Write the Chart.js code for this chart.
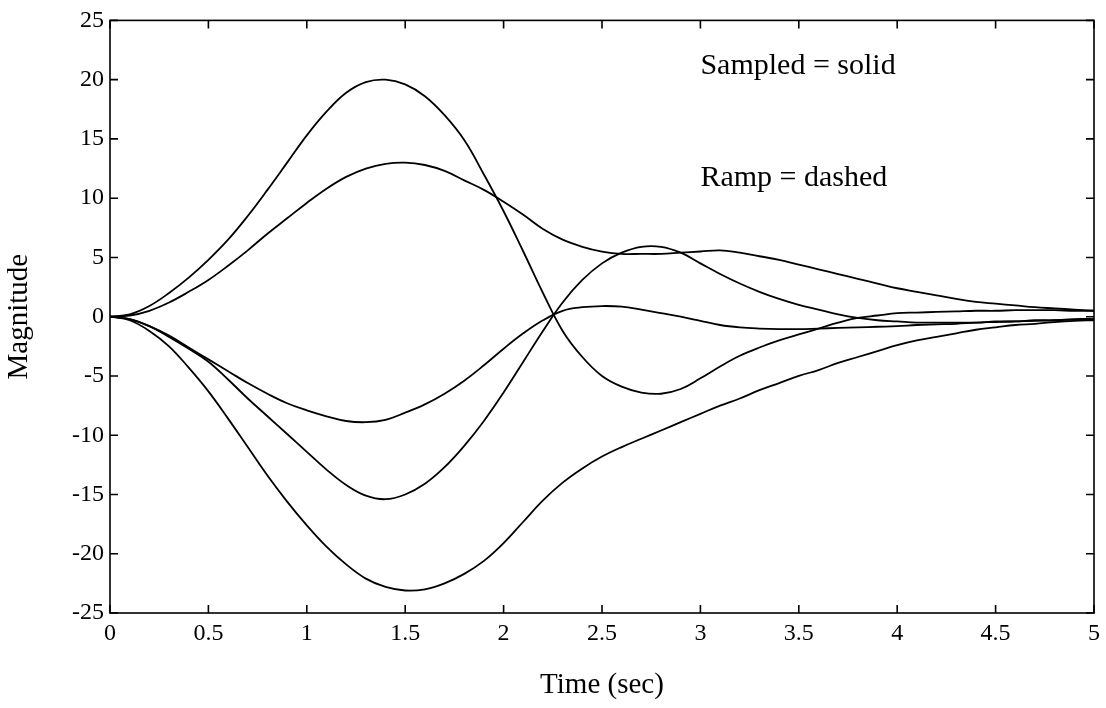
<!DOCTYPE html>
<html>
<head>
<meta charset="utf-8">
<title>Magnitude vs time</title>
<script src="https://cdn.jsdelivr.net/npm/chart.js@4/dist/chart.umd.min.js"></script>
<style>
    html, body { margin: 0; padding: 0; background: #fff; }
    #wrap { width: 1106px; height: 708px; }
</style>
</head>
<body>
<div id="wrap"><canvas id="respChart"></canvas></div>
<script>
// time axis (sec)
const time = [
    0.0, 0.1, 0.2, 0.3, 0.4, 0.5, 0.6, 0.7, 0.8, 0.9,
    1.0, 1.1, 1.2, 1.3, 1.4, 1.5, 1.6, 1.7, 1.8, 1.9,
    2.0, 2.1, 2.2, 2.3, 2.4, 2.5, 2.6, 2.7, 2.8, 2.9,
    3.0, 3.1, 3.2, 3.3, 3.4, 3.5, 3.6, 3.7, 3.8, 3.9,
    4.0, 4.1, 4.2, 4.3, 4.4, 4.5, 4.6, 4.7, 4.8, 4.9, 5.0
];

// response curves
const peak20 = [
    0, 0.2, 0.9, 2.0, 3.3, 4.8, 6.5, 8.5, 10.7, 13.0,
    15.3, 17.3, 18.9, 19.8, 20.0, 19.6, 18.6, 17.0, 14.9, 12.0,
    8.9, 5.5, 2.0, -1.2, -3.4, -5.0, -5.9, -6.4, -6.5, -6.1,
    -5.2, -4.2, -3.3, -2.6, -2.0, -1.5, -1.0, -0.5, -0.1, 0.1,
    0.3, 0.35, 0.4, 0.45, 0.5, 0.5, 0.55, 0.55, 0.55, 0.5, 0.5
];
const peak13 = [
    0, 0.1, 0.5, 1.2, 2.1, 3.1, 4.3, 5.6, 7.0, 8.3,
    9.6, 10.8, 11.8, 12.5, 12.9, 13.0, 12.8, 12.3, 11.5, 10.7,
    9.7, 8.6, 7.4, 6.5, 5.9, 5.5, 5.3, 5.3, 5.3, 5.4,
    5.5, 5.6, 5.4, 5.1, 4.8, 4.4, 4.0, 3.6, 3.2, 2.8,
    2.4, 2.1, 1.8, 1.5, 1.25, 1.1, 0.95, 0.8, 0.7, 0.6, 0.5
];
const dip9 = [
    0, -0.2, -0.8, -1.6, -2.6, -3.6, -4.6, -5.6, -6.5, -7.3,
    -7.9, -8.4, -8.8, -8.9, -8.7, -8.1, -7.4, -6.5, -5.4, -4.1,
    -2.7, -1.4, -0.3, 0.5, 0.8, 0.9, 0.85, 0.6, 0.3, 0.0,
    -0.35, -0.7, -0.9, -1.0, -1.05, -1.05, -1.0, -0.95, -0.9, -0.85,
    -0.8, -0.7, -0.65, -0.6, -0.5, -0.45, -0.4, -0.35, -0.3, -0.25, -0.2
];
const dip15 = [
    0, -0.2, -0.8, -1.7, -2.7, -3.8, -5.3, -6.9, -8.4, -9.9,
    -11.4, -12.9, -14.2, -15.1, -15.4, -15.0, -14.1, -12.7, -10.9, -8.8,
    -6.4, -3.8, -1.2, 1.2, 3.1, 4.5, 5.4, 5.9, 5.9, 5.4,
    4.5, 3.6, 2.8, 2.1, 1.5, 1.0, 0.6, 0.2, -0.1, -0.3,
    -0.4, -0.5, -0.5, -0.5, -0.5, -0.4, -0.4, -0.3, -0.3, -0.2, -0.2
];
const dip23 = [
    0, -0.3, -1.2, -2.5, -4.3, -6.3, -8.6, -11.0, -13.4, -15.6,
    -17.6, -19.4, -20.9, -22.1, -22.8, -23.1, -23.0, -22.5, -21.7, -20.6,
    -19.1, -17.3, -15.5, -14.0, -12.8, -11.8, -11.0, -10.3, -9.6, -8.9,
    -8.2, -7.5, -6.9, -6.2, -5.6, -5.0, -4.5, -3.9, -3.4, -2.9,
    -2.4, -2.0, -1.7, -1.4, -1.1, -0.9, -0.7, -0.6, -0.45, -0.35, -0.3
];

const xTicks = [0, 0.5, 1, 1.5, 2, 2.5, 3, 3.5, 4, 4.5, 5];
const xTickLabels = ["0", "0.5", "1", "1.5", "2", "2.5", "3", "3.5", "4", "4.5", "5"];
const yTicks = [-25, -20, -15, -10, -5, 0, 5, 10, 15, 20, 25];
const yTickLabels = ["-25", "-20", "-15", "-10", "-5", "0", "5", "10", "15", "20", "25"];

const notes = ["Sampled = solid", "Ramp = dashed"];

const serif = "'Liberation Serif', 'Times New Roman', serif";

function series(values) {
    return {
        data: time.map((t, i) => ({ x: t, y: values[i] })),
        borderColor: "#000",
        borderWidth: 1.8,
        pointRadius: 0,
        fill: false,
        tension: 0.4
    };
}

// box round the plot with inward tick marks, plus the two notes
const frame = {
    id: "frame",
    afterDraw(chart) {
        const { ctx, chartArea: a } = chart;
        const xs = chart.scales.x;
        const ys = chart.scales.y;
        const len = 8;
        ctx.save();
        ctx.strokeStyle = "#000";
        ctx.lineWidth = 1.6;
        ctx.strokeRect(a.left, a.top, a.right - a.left, a.bottom - a.top);
        ctx.beginPath();
        xTicks.forEach(v => {
            const px = xs.getPixelForValue(v);
            ctx.moveTo(px, a.bottom);
            ctx.lineTo(px, a.bottom - len);
            ctx.moveTo(px, a.top);
            ctx.lineTo(px, a.top + len);
        });
        yTicks.forEach(v => {
            const py = ys.getPixelForValue(v);
            ctx.moveTo(a.left, py);
            ctx.lineTo(a.left + len, py);
            ctx.moveTo(a.right, py);
            ctx.lineTo(a.right - len, py);
        });
        ctx.stroke();

        ctx.fillStyle = "#000";
        ctx.font = "30px " + serif;
        ctx.textAlign = "left";
        ctx.textBaseline = "alphabetic";
        ctx.fillText(notes[0], xs.getPixelForValue(3.0), ys.getPixelForValue(20.5));
        ctx.fillText(notes[1], xs.getPixelForValue(3.0), ys.getPixelForValue(11.0));
        ctx.restore();
    }
};

new Chart(document.getElementById("respChart"), {
    type: "line",
    data: {
        datasets: [series(peak20), series(peak13), series(dip9), series(dip15), series(dip23)]
    },
    options: {
        responsive: true,
        maintainAspectRatio: false,
        animation: false,
        layout: { padding: { top: 19, right: 10, left: 0, bottom: 0 } },
        plugins: {
            legend: { display: false },
            tooltip: { enabled: false }
        },
        scales: {
            x: {
                type: "linear",
                min: 0,
                max: 5,
                afterBuildTicks: s => { s.ticks = xTicks.map(v => ({ value: v })); },
                afterFit: s => { s.height = 95; },
                grid: { display: false, drawTicks: false },
                border: { display: false },
                ticks: {
                    color: "#000",
                    padding: 6,
                    maxRotation: 0,
                    font: { family: serif, size: 24 },
                    callback: v => xTickLabels[xTicks.indexOf(v)]
                },
                title: {
                    display: true,
                    text: "Time (sec)",
                    color: "#000",
                    font: { family: serif, size: 29 },
                    padding: { top: 0, bottom: 5 }
                }
            },
            y: {
                min: -25,
                max: 25,
                afterBuildTicks: s => { s.ticks = yTicks.map(v => ({ value: v })); },
                afterFit: s => { s.width = 110; },
                grid: { display: false, drawTicks: false },
                border: { display: false },
                ticks: {
                    color: "#000",
                    padding: 6,
                    font: { family: serif, size: 24 },
                    callback: v => yTickLabels[yTicks.indexOf(v)]
                },
                title: {
                    display: true,
                    text: "Magnitude",
                    color: "#000",
                    font: { family: serif, size: 29 },
                    padding: { top: 2, bottom: 0 }
                }
            }
        }
    },
    plugins: [frame]
});
</script>
</body>
</html>
